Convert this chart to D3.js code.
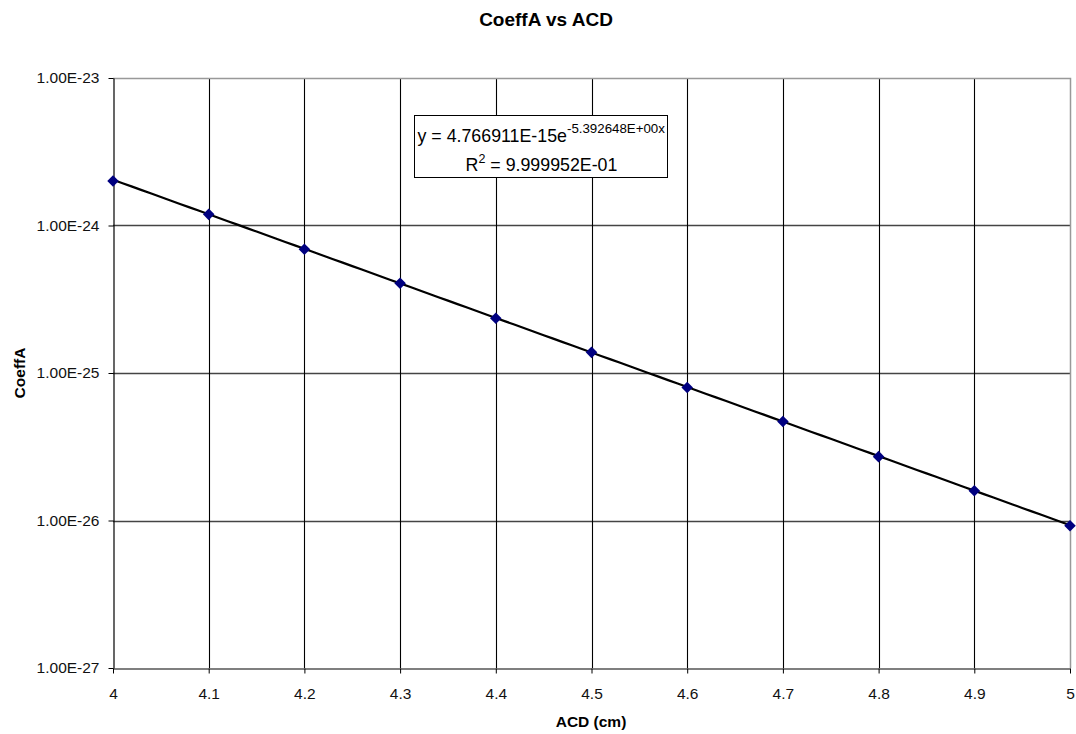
<!DOCTYPE html>
<html>
<head>
<meta charset="utf-8">
<script src="https://cdn.jsdelivr.net/npm/d3@7"></script>
<style>
  html, body { margin: 0; padding: 0; background: #fff; }
  svg { display: block; }
  text { font-family: "Liberation Sans", Arial, sans-serif; }
</style>
</head>
<body>
<svg id="chart" width="1076" height="734"></svg>
<script>
// Measured CoeffA against ACD
const acd = [4.0, 4.1, 4.2, 4.3, 4.4, 4.5, 4.6, 4.7, 4.8, 4.9, 5.0];
const coeffA = [2.00e-24, 1.19e-24, 6.9e-25, 4.06e-25, 2.35e-25, 1.38e-25,
                7.98e-26, 4.69e-26, 2.71e-26, 1.59e-26, 9.2e-27];

// Exponential trendline coefficients, y = a * e^(b x)
const fitA = 4.766911e-15;
const fitB = -5.392648;
const fitAText = "4.766911E-15";
const fitBText = "-5.392648E+00";
const fitR2Text = "9.999952E-01";

const xTicks = [4, 4.1, 4.2, 4.3, 4.4, 4.5, 4.6, 4.7, 4.8, 4.9, 5];
const yTicks = [1e-23, 1e-24, 1e-25, 1e-26, 1e-27];
const yTickLabels = ["1.00E-23", "1.00E-24", "1.00E-25", "1.00E-26", "1.00E-27"];

const FONT = "'Liberation Sans', Arial, sans-serif";
const svg = d3.select("#chart");
const plot = { left: 113, right: 1070, top: 78, bottom: 668 };

const x = d3.scaleLinear().domain([4, 5]).range([plot.left, plot.right]);
const y = d3.scaleLog().domain([1e-27, 1e-23]).range([plot.bottom, plot.top]);

// Title
svg.append("text")
  .attr("x", 546).attr("y", 26)
  .attr("text-anchor", "middle")
  .attr("font-size", 19).attr("font-weight", "bold").attr("fill", "#000")
  .text("CoeffA vs ACD");

// Gridlines
const grid = svg.append("g");
grid.selectAll("line.h").data(yTicks.slice(1, -1)).enter().append("line")
  .attr("x1", plot.left).attr("x2", plot.right)
  .attr("y1", d => Math.round(y(d)) + 0.5).attr("y2", d => Math.round(y(d)) + 0.5)
  .attr("stroke", "#444").attr("stroke-width", 1.3);
grid.selectAll("line.v").data(xTicks.slice(1, -1)).enter().append("line")
  .attr("y1", plot.top).attr("y2", plot.bottom)
  .attr("x1", d => Math.round(x(d)) + 0.5).attr("x2", d => Math.round(x(d)) + 0.5)
  .attr("stroke", "#000").attr("stroke-width", 1.1);

// Plot area border (top / right)
svg.append("path")
  .attr("d", `M${plot.left},${plot.top + 0.5}H${plot.right + 0.5}V${plot.bottom}`)
  .attr("fill", "none").attr("stroke", "#999").attr("stroke-width", 1.5);

// Axes
const xAxis = d3.axisBottom(x).tickValues(xTicks).tickSize(5).tickSizeOuter(0)
  .tickFormat(d => String(+d.toFixed(1)));
const gx = svg.append("g")
  .attr("transform", `translate(0,${plot.bottom + 0.5})`)
  .call(xAxis);
gx.select(".domain").attr("stroke", "#000").attr("stroke-width", 1.2);
gx.selectAll(".tick line").attr("stroke", "#000");
gx.selectAll(".tick text")
  .attr("font-family", FONT)
  .attr("font-size", 15.5).attr("fill", "#111")
  .attr("y", 30).attr("dy", 0);

const yAxis = d3.axisLeft(y).tickValues(yTicks).tickSize(5).tickSizeOuter(0)
  .tickFormat((d, i) => yTickLabels[i]);
const gy = svg.append("g")
  .attr("transform", `translate(${plot.left + 0.5},0)`)
  .call(yAxis);
gy.select(".domain").attr("stroke", "#000").attr("stroke-width", 1.2);
gy.selectAll(".tick line").attr("stroke", "#000");
gy.selectAll(".tick text")
  .attr("font-family", FONT)
  .attr("font-size", 15.5).attr("fill", "#111").attr("x", -14);

// Axis titles
svg.append("text")
  .attr("x", 591).attr("y", 727)
  .attr("text-anchor", "middle")
  .attr("font-size", 15.5).attr("font-weight", "bold")
  .text("ACD (cm)");
svg.append("text")
  .attr("transform", "translate(25,373) rotate(-90)")
  .attr("text-anchor", "middle")
  .attr("font-size", 15.5).attr("font-weight", "bold")
  .text("CoeffA");

// Trendline from the fitted equation
const fitXs = d3.range(0, 101).map(i => 4 + i / 100);
const trend = d3.line()
  .x(d => x(d))
  .y(d => y(fitA * Math.exp(fitB * d)));
svg.append("path")
  .datum(fitXs)
  .attr("d", trend)
  .attr("fill", "none").attr("stroke", "#000").attr("stroke-width", 2.2);

// Data markers (diamonds)
const diamond = d3.symbol().type(d3.symbolDiamond2).size(85);
svg.append("g").selectAll("path").data(acd).enter().append("path")
  .attr("d", diamond)
  .attr("transform", (d, i) => `translate(${x(d)},${y(coeffA[i])})`)
  .attr("fill", "#000080");

// Equation box
const box = svg.append("g").attr("transform", "translate(414.5,115.5)");
box.append("rect")
  .attr("width", 253).attr("height", 62)
  .attr("fill", "#fff").attr("stroke", "#000").attr("stroke-width", 1);
const eq = box.append("text")
  .attr("x", 3).attr("y", 26)
  .attr("font-size", 17.8);
eq.append("tspan").text(`y = ${fitAText}e`);
eq.append("tspan").attr("dy", -9).attr("font-size", 13.3).text(fitBText + "x");
const r2 = box.append("text")
  .attr("x", 127).attr("y", 55)
  .attr("text-anchor", "middle")
  .attr("font-size", 17.8);
r2.append("tspan").text("R");
r2.append("tspan").attr("dy", -8).attr("font-size", 12.5).text("2");
r2.append("tspan").attr("dy", 8).text(" = " + fitR2Text);
</script>
</body>
</html>
